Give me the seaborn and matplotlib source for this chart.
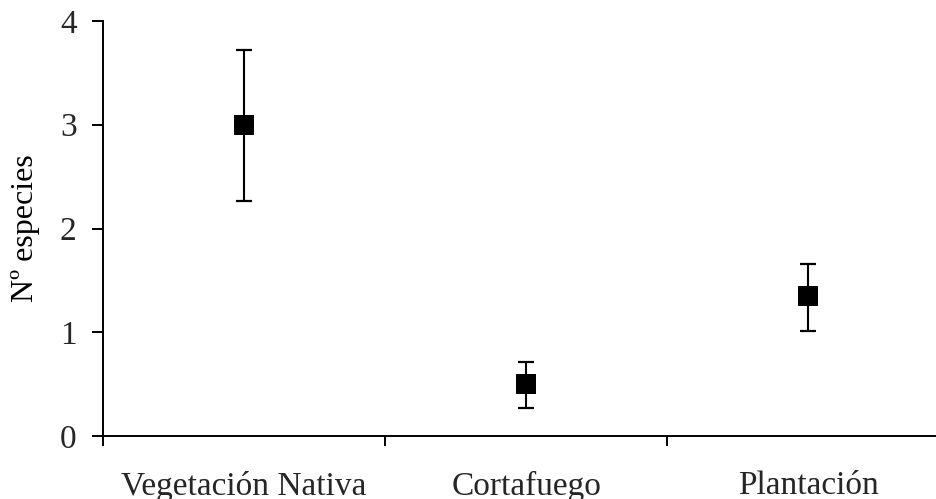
import matplotlib
matplotlib.use("Agg")
import matplotlib.pyplot as plt
import seaborn as sns
import pandas as pd
from matplotlib.ticker import FixedLocator

categories = ["Vegetación Nativa", "Cortafuego", "Plantación"]
means = [3.0, 0.5, 1.35]
err_low = [0.73, 0.23, 0.34]
err_high = [0.72, 0.21, 0.31]

df = pd.DataFrame({"grupo": categories, "especies": means})

sns.set_theme(style="white")
plt.rcParams["font.family"] = ["Liberation Serif", "DejaVu Serif"]

fig = plt.figure(figsize=(9.37, 4.99), dpi=100)
ax = fig.add_axes([0.110, 0.126, 0.890, 0.832])

ax.errorbar(
    range(len(categories)), means, yerr=[err_low, err_high],
    fmt="none", ecolor="black", elinewidth=1.5, capsize=5.5, capthick=1.6, zorder=2,
)
sns.scatterplot(
    data=df, x="grupo", y="especies", marker="s", s=195,
    color="black", edgecolor="black", linewidth=0, ax=ax, zorder=3,
)

ax.set_xlim(-0.5, 2.457)
ax.set_ylim(0, 4)
ax.set_yticks([0, 1, 2, 3, 4])
ax.set_xticks(range(len(categories)))
ax.set_xticklabels(categories)
ax.xaxis.set_minor_locator(FixedLocator([-0.5, 0.5, 1.5]))

ax.tick_params(axis="y", which="major", direction="out", length=8, width=1.4,
               color="black", labelsize=24, pad=11, left=True)
ax.tick_params(axis="x", which="major", length=0, labelsize=24, pad=25)
ax.tick_params(axis="x", which="minor", direction="out", length=7, width=1.4,
               color="black", bottom=True)

ax.set_xlabel("")
ax.set_ylabel("Nº especies", fontsize=23, labelpad=14.5, color="black")

sns.despine(ax=ax)
for side in ["left", "bottom"]:
    ax.spines[side].set_color("black")
    ax.spines[side].set_linewidth(1.4)
ax.spines["bottom"].set_zorder(1)

fig.savefig("out.png", dpi=100)
